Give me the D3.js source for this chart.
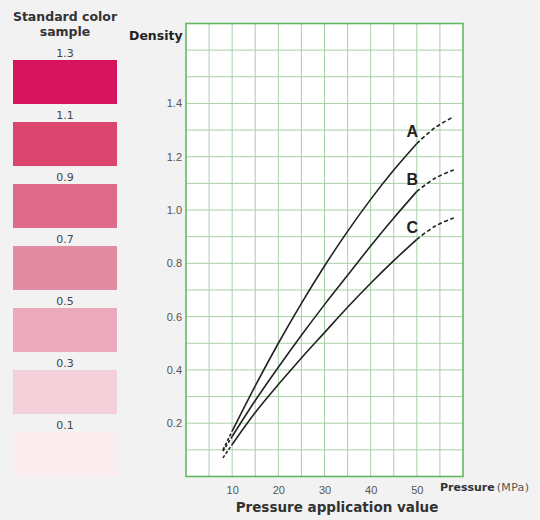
<!DOCTYPE html>
<html>
<head>
<meta charset="utf-8">
<script src="https://cdn.jsdelivr.net/npm/d3@7"></script>
<style>
  html, body { margin: 0; padding: 0; background: #f2f2f2; }
  svg { display: block; font-family: "DejaVu Sans", "Noto Sans", sans-serif; }
</style>
</head>
<body>
<svg id="chart" width="540" height="520"></svg>
<script>
// colour sample swatches
let sampleLabels = ['1.3', '1.1', '0.9', '0.7', '0.5', '0.3', '0.1'];
let sampleColors = ['#d6135d', '#da4670', '#df6b8b', '#e48ba4', '#eba9bc', '#f4d0da', '#fbecef'];

// curves: pressure (MPa) -> density
let pressure = [8, 10, 15, 20, 25, 30, 35, 40, 45, 50, 54, 58];
let seriesA = [0.10, 0.17, 0.34, 0.50, 0.65, 0.79, 0.92, 1.04, 1.15, 1.25, 1.31, 1.35];
let seriesB = [0.095, 0.15, 0.285, 0.41, 0.53, 0.645, 0.755, 0.865, 0.97, 1.07, 1.12, 1.15];
let seriesC = [0.07, 0.12, 0.24, 0.345, 0.445, 0.54, 0.635, 0.725, 0.81, 0.89, 0.94, 0.97];
let seriesNames = ['A', 'B', 'C'];

let xTicks = [10, 20, 30, 40, 50];
let yTicks = [0.2, 0.4, 0.6, 0.8, 1.0, 1.2, 1.4];

let svg = d3.select('#chart');

let x = d3.scaleLinear().domain([0, 60]).range([186, 463]);
let y = d3.scaleLinear().domain([0, 1.7]).range([476.5, 23.5]);

// swatches
let sw = d3.scaleBand().domain(sampleLabels).range([60, 476]).paddingInner(0.29);

svg.append('text')
    .attr('x', 65).attr('y', 21)
    .attr('text-anchor', 'middle')
    .attr('font-size', 12.5).attr('font-weight', 'bold').attr('fill', '#333')
    .text('Standard color');
svg.append('text')
    .attr('x', 65).attr('y', 36)
    .attr('text-anchor', 'middle')
    .attr('font-size', 12.5).attr('font-weight', 'bold').attr('fill', '#333')
    .text('sample');

sampleLabels.forEach((d, i) => {
    svg.append('rect')
        .attr('x', 13).attr('y', sw(d))
        .attr('width', 104).attr('height', sw.bandwidth())
        .attr('fill', sampleColors[i]);
    svg.append('text')
        .attr('x', 65).attr('y', sw(d) - 3)
        .attr('text-anchor', 'middle')
        .attr('font-size', 11).attr('fill', '#444')
        .text(d);
});

// plot background
svg.append('rect')
    .attr('x', x(0)).attr('y', y(1.7))
    .attr('width', x(60) - x(0)).attr('height', y(0) - y(1.7))
    .attr('fill', '#fff');

// grid
let grid = svg.append('g').attr('stroke', '#a9cfa9').attr('stroke-width', 1);
d3.range(5, 60, 5).forEach(v => {
    grid.append('line')
        .attr('x1', x(v)).attr('x2', x(v))
        .attr('y1', y(0)).attr('y2', y(1.7));
});
d3.range(1, 17).forEach(k => {
    let v = k / 10;
    grid.append('line')
        .attr('x1', x(0)).attr('x2', x(60))
        .attr('y1', y(v)).attr('y2', y(v));
});

svg.append('rect')
    .attr('x', x(0)).attr('y', y(1.7))
    .attr('width', x(60) - x(0)).attr('height', y(0) - y(1.7))
    .attr('fill', 'none').attr('stroke', '#62b862').attr('stroke-width', 1.6);

// axes (labels only)
let xAxis = svg.append('g')
    .attr('transform', `translate(0,${y(0)})`)
    .call(d3.axisBottom(x).tickValues(xTicks).tickSize(0).tickPadding(10).tickFormat(d3.format('d')));
xAxis.select('.domain').remove();
xAxis.selectAll('text').attr('font-size', 11).attr('fill', '#555').attr('font-family', null);

let yAxis = svg.append('g')
    .attr('transform', `translate(${x(0)},0)`)
    .call(d3.axisLeft(y).tickValues(yTicks).tickSize(0).tickPadding(4).tickFormat(d3.format('.1f')));
yAxis.select('.domain').remove();
yAxis.selectAll('text').attr('font-size', 11).attr('fill', '#555').attr('font-family', null);

svg.append('text')
    .attr('x', 129).attr('y', 40)
    .attr('font-size', 12.5).attr('font-weight', 'bold').attr('fill', '#222')
    .text('Density');

let pLabel = svg.append('text')
    .attr('x', 440).attr('y', 491)
    .attr('font-size', 11).attr('fill', '#333');
pLabel.append('tspan').attr('font-weight', 'bold').text('Pressure');
pLabel.append('tspan').attr('fill', '#555').attr('dx', 2).attr('letter-spacing', 0.3).text('(MPa)');

svg.append('text')
    .attr('x', 337).attr('y', 512)
    .attr('text-anchor', 'middle')
    .attr('font-size', 13.5).attr('font-weight', 'bold').attr('fill', '#333')
    .text('Pressure application value');

// curves
let line = d3.line()
    .x(d => x(d[0]))
    .y(d => y(d[1]))
    .curve(d3.curveCatmullRom.alpha(0.5));

let curves = svg.append('g').attr('fill', 'none').attr('stroke', '#222').attr('stroke-width', 1.6);

[seriesA, seriesB, seriesC].forEach((vals, si) => {
    let pts = pressure.map((p, i) => [p, vals[i]]);
    let first = pts.slice(0, 2);
    let mid = pts.slice(1, 10);
    let last = pts.slice(9);
    curves.append('path').attr('d', line(first)).attr('stroke-dasharray', '3,2');
    curves.append('path').attr('d', line(mid));
    curves.append('path').attr('d', line(last)).attr('stroke-dasharray', '4,2.5');

    svg.append('text')
        .attr('x', x(49)).attr('y', y(vals[9]) - 6)
        .attr('text-anchor', 'middle')
        .attr('font-size', 16).attr('font-weight', 'bold').attr('fill', '#222')
        .attr('font-family', 'Liberation Sans, Arial, sans-serif')
        .text(seriesNames[si]);
});
</script>
</body>
</html>
